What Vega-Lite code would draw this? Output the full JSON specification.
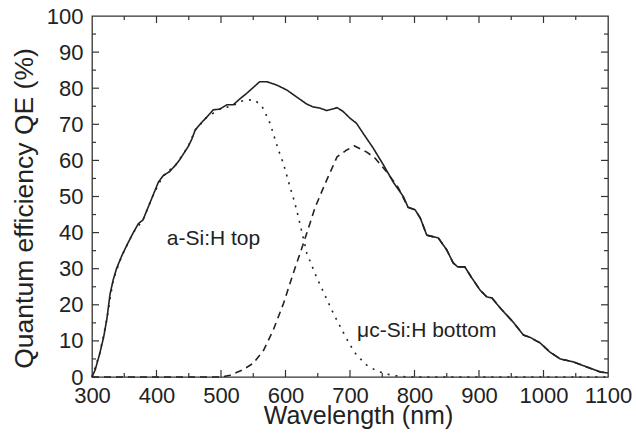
{
  "$schema": "https://vega.github.io/schema/vega-lite/v6.json",
  "autosize": "none",
  "width": 516,
  "height": 361,
  "padding": {"left": 92, "top": 16, "right": 28, "bottom": 66},
  "background": "white",
  "config": {
    "view": {"stroke": "#333", "strokeWidth": 1.3},
    "axis": {"grid": false, "domain": false, "ticks": false, "labelFont": "Liberation Sans", "titleFont": "Liberation Sans", "titleFontWeight": "normal", "labelColor": "#222", "titleColor": "#222"}
  },
  "resolve": {"axis": {"x": "independent", "y": "independent"}},
  "datasets": {
    "curves": [
      {"series": "total", "wl": 300, "qe": 0},
      {"series": "total", "wl": 305, "qe": 2},
      {"series": "total", "wl": 312, "qe": 6.5},
      {"series": "total", "wl": 318, "qe": 11},
      {"series": "total", "wl": 323, "qe": 16},
      {"series": "total", "wl": 328, "qe": 23},
      {"series": "total", "wl": 333, "qe": 27},
      {"series": "total", "wl": 338, "qe": 30},
      {"series": "total", "wl": 346, "qe": 33.5},
      {"series": "total", "wl": 354, "qe": 36.5},
      {"series": "total", "wl": 364, "qe": 40},
      {"series": "total", "wl": 372, "qe": 42.5},
      {"series": "total", "wl": 379, "qe": 43.5},
      {"series": "total", "wl": 387, "qe": 47},
      {"series": "total", "wl": 395, "qe": 50.5},
      {"series": "total", "wl": 403, "qe": 54},
      {"series": "total", "wl": 410, "qe": 55.7},
      {"series": "total", "wl": 421, "qe": 57},
      {"series": "total", "wl": 430, "qe": 58.8},
      {"series": "total", "wl": 436, "qe": 60.2},
      {"series": "total", "wl": 449, "qe": 63.8},
      {"series": "total", "wl": 455, "qe": 66},
      {"series": "total", "wl": 460, "qe": 68.4},
      {"series": "total", "wl": 470, "qe": 70.5},
      {"series": "total", "wl": 478, "qe": 72},
      {"series": "total", "wl": 488, "qe": 74},
      {"series": "total", "wl": 498, "qe": 74.2},
      {"series": "total", "wl": 509, "qe": 75.4},
      {"series": "total", "wl": 519, "qe": 75.4},
      {"series": "total", "wl": 529, "qe": 77},
      {"series": "total", "wl": 540, "qe": 78.6},
      {"series": "total", "wl": 550, "qe": 80.2},
      {"series": "total", "wl": 560, "qe": 81.8},
      {"series": "total", "wl": 571, "qe": 81.8},
      {"series": "total", "wl": 586, "qe": 80.9},
      {"series": "total", "wl": 602, "qe": 79.5},
      {"series": "total", "wl": 617, "qe": 77.6},
      {"series": "total", "wl": 633, "qe": 75.6},
      {"series": "total", "wl": 643, "qe": 74.8},
      {"series": "total", "wl": 653, "qe": 74.5},
      {"series": "total", "wl": 664, "qe": 73.8},
      {"series": "total", "wl": 680, "qe": 74.6},
      {"series": "total", "wl": 689, "qe": 73.6},
      {"series": "total", "wl": 700, "qe": 71.7},
      {"series": "total", "wl": 710, "qe": 70.3},
      {"series": "total", "wl": 720, "qe": 67.6},
      {"series": "total", "wl": 736, "qe": 63.4},
      {"series": "total", "wl": 752, "qe": 58.7},
      {"series": "total", "wl": 767, "qe": 54},
      {"series": "total", "wl": 783, "qe": 49.9},
      {"series": "total", "wl": 790, "qe": 47},
      {"series": "total", "wl": 801, "qe": 46.3},
      {"series": "total", "wl": 809, "qe": 44},
      {"series": "total", "wl": 819, "qe": 39.3},
      {"series": "total", "wl": 837, "qe": 38.5},
      {"series": "total", "wl": 850, "qe": 35.2},
      {"series": "total", "wl": 860, "qe": 31.6},
      {"series": "total", "wl": 867, "qe": 30.5},
      {"series": "total", "wl": 878, "qe": 30.5},
      {"series": "total", "wl": 889, "qe": 27.4},
      {"series": "total", "wl": 902, "qe": 24},
      {"series": "total", "wl": 912, "qe": 22.2},
      {"series": "total", "wl": 920, "qe": 21.9},
      {"series": "total", "wl": 933, "qe": 19.1},
      {"series": "total", "wl": 953, "qe": 15.2},
      {"series": "total", "wl": 969, "qe": 11.6},
      {"series": "total", "wl": 979, "qe": 11},
      {"series": "total", "wl": 995, "qe": 9.4},
      {"series": "total", "wl": 1010, "qe": 6.9},
      {"series": "total", "wl": 1026, "qe": 5},
      {"series": "total", "wl": 1046, "qe": 4.2},
      {"series": "total", "wl": 1067, "qe": 2.8},
      {"series": "total", "wl": 1088, "qe": 1.4},
      {"series": "total", "wl": 1100, "qe": 1.1},

      {"series": "top", "wl": 300, "qe": 0},
      {"series": "top", "wl": 312, "qe": 6.5},
      {"series": "top", "wl": 323, "qe": 16},
      {"series": "top", "wl": 333, "qe": 27},
      {"series": "top", "wl": 346, "qe": 33.5},
      {"series": "top", "wl": 364, "qe": 40},
      {"series": "top", "wl": 379, "qe": 43.5},
      {"series": "top", "wl": 395, "qe": 50.5},
      {"series": "top", "wl": 410, "qe": 55.7},
      {"series": "top", "wl": 430, "qe": 58.8},
      {"series": "top", "wl": 449, "qe": 63.8},
      {"series": "top", "wl": 460, "qe": 68.4},
      {"series": "top", "wl": 478, "qe": 72},
      {"series": "top", "wl": 498, "qe": 74.2},
      {"series": "top", "wl": 519, "qe": 75.2},
      {"series": "top", "wl": 529, "qe": 76.3},
      {"series": "top", "wl": 540, "qe": 76.8},
      {"series": "top", "wl": 553, "qe": 76.7},
      {"series": "top", "wl": 565, "qe": 74.5},
      {"series": "top", "wl": 576, "qe": 70.3},
      {"series": "top", "wl": 589, "qe": 62.9},
      {"series": "top", "wl": 597, "qe": 59},
      {"series": "top", "wl": 607, "qe": 52.6},
      {"series": "top", "wl": 614, "qe": 48.5},
      {"series": "top", "wl": 620, "qe": 44.3},
      {"series": "top", "wl": 633, "qe": 34.3},
      {"series": "top", "wl": 648, "qe": 27.7},
      {"series": "top", "wl": 661, "qe": 22.7},
      {"series": "top", "wl": 674, "qe": 17.7},
      {"series": "top", "wl": 690, "qe": 12.2},
      {"series": "top", "wl": 700, "qe": 8.9},
      {"series": "top", "wl": 710, "qe": 6.1},
      {"series": "top", "wl": 726, "qe": 3.3},
      {"series": "top", "wl": 741, "qe": 1.7},
      {"series": "top", "wl": 757, "qe": 0.8},
      {"series": "top", "wl": 773, "qe": 0.3},
      {"series": "top", "wl": 790, "qe": 0},
      {"series": "top", "wl": 1100, "qe": 0},

      {"series": "bottom", "wl": 300, "qe": 0},
      {"series": "bottom", "wl": 500, "qe": 0},
      {"series": "bottom", "wl": 514, "qe": 0.5},
      {"series": "bottom", "wl": 534, "qe": 2},
      {"series": "bottom", "wl": 550, "qe": 3.8},
      {"series": "bottom", "wl": 566, "qe": 7.4},
      {"series": "bottom", "wl": 581, "qe": 13},
      {"series": "bottom", "wl": 597, "qe": 20.4},
      {"series": "bottom", "wl": 612, "qe": 28.7},
      {"series": "bottom", "wl": 628, "qe": 37.1},
      {"series": "bottom", "wl": 638, "qe": 42.6},
      {"series": "bottom", "wl": 646, "qe": 47},
      {"series": "bottom", "wl": 653, "qe": 50},
      {"series": "bottom", "wl": 664, "qe": 54.6},
      {"series": "bottom", "wl": 680, "qe": 61},
      {"series": "bottom", "wl": 695, "qe": 62.9},
      {"series": "bottom", "wl": 707, "qe": 64},
      {"series": "bottom", "wl": 726, "qe": 62.3},
      {"series": "bottom", "wl": 739, "qe": 60.6},
      {"series": "bottom", "wl": 757, "qe": 56.8},
      {"series": "bottom", "wl": 775, "qe": 52.4},
      {"series": "bottom", "wl": 790, "qe": 47},
      {"series": "bottom", "wl": 801, "qe": 46.3},
      {"series": "bottom", "wl": 809, "qe": 44},
      {"series": "bottom", "wl": 819, "qe": 39.3},
      {"series": "bottom", "wl": 837, "qe": 38.5},
      {"series": "bottom", "wl": 850, "qe": 35.2},
      {"series": "bottom", "wl": 860, "qe": 31.6},
      {"series": "bottom", "wl": 867, "qe": 30.5},
      {"series": "bottom", "wl": 878, "qe": 30.5},
      {"series": "bottom", "wl": 889, "qe": 27.4},
      {"series": "bottom", "wl": 902, "qe": 24},
      {"series": "bottom", "wl": 912, "qe": 22.2},
      {"series": "bottom", "wl": 920, "qe": 21.9},
      {"series": "bottom", "wl": 933, "qe": 19.1},
      {"series": "bottom", "wl": 953, "qe": 15.2},
      {"series": "bottom", "wl": 969, "qe": 11.6},
      {"series": "bottom", "wl": 979, "qe": 11},
      {"series": "bottom", "wl": 995, "qe": 9.4},
      {"series": "bottom", "wl": 1010, "qe": 6.9},
      {"series": "bottom", "wl": 1026, "qe": 5},
      {"series": "bottom", "wl": 1046, "qe": 4.2},
      {"series": "bottom", "wl": 1067, "qe": 2.8},
      {"series": "bottom", "wl": 1088, "qe": 1.4},
      {"series": "bottom", "wl": 1100, "qe": 1.1}
    ],
    "labels": [
      {"label": "a-Si:H top", "wl": 416, "qe": 38.3},
      {"label": "μc-Si:H bottom", "wl": 711, "qe": 12.7}
    ],
    "xticks": [
      {"v": 350}, {"v": 400}, {"v": 450}, {"v": 500}, {"v": 550}, {"v": 600}, {"v": 650}, {"v": 700},
      {"v": 750}, {"v": 800}, {"v": 850}, {"v": 900}, {"v": 950}, {"v": 1000}, {"v": 1050}
    ],
    "yticks": [
      {"v": 5}, {"v": 10}, {"v": 15}, {"v": 20}, {"v": 25}, {"v": 30}, {"v": 35}, {"v": 40}, {"v": 45},
      {"v": 50}, {"v": 55}, {"v": 60}, {"v": 65}, {"v": 70}, {"v": 75}, {"v": 80}, {"v": 85}, {"v": 90}, {"v": 95}
    ]
  },
  "layer": [
    {
      "data": {"name": "curves"},
      "mark": {"type": "line", "color": "#222", "strokeWidth": 1.6},
      "encoding": {
        "x": {
          "field": "wl", "type": "quantitative",
          "scale": {"domain": [300, 1100], "nice": false},
          "axis": {
            "orient": "bottom",
            "title": "Wavelength (nm)",
            "titleFontSize": 25,
            "titleX": 266, "titleY": 46, "titleBaseline": "alphabetic", "titleAlign": "center",
            "values": [300,400,500,600,700,800,900,1000,1100],
            "format": "d",
            "labelFontSize": 22,
            "labelPadding": 8,
            "labelOverlap": false,
            "labelFlush": false
          }
        },
        "y": {
          "field": "qe", "type": "quantitative",
          "scale": {"domain": [0, 100], "nice": false},
          "axis": {
            "orient": "left",
            "title": "Quantum efficiency QE (%)",
            "titleFontSize": 26.5,
            "titleX": -60, "titleY": 192, "titleAngle": -90, "titleBaseline": "alphabetic", "titleAlign": "center",
            "values": [0,10,20,30,40,50,60,70,80,90,100],
            "labelFontSize": 22,
            "labelPadding": 9,
            "labelOverlap": false,
            "labelFlush": false
          }
        },
        "strokeDash": {
          "field": "series", "type": "nominal",
          "scale": {"domain": ["total", "top", "bottom"], "range": [[1, 0], [2, 6], [7, 5]]},
          "legend": null
        }
      }
    },
    {
      "data": {"name": "labels"},
      "mark": {"type": "text", "align": "left", "baseline": "middle", "fontSize": 21, "color": "#222", "font": "Liberation Sans"},
      "encoding": {
        "x": {"field": "wl", "type": "quantitative", "axis": null},
        "y": {"field": "qe", "type": "quantitative", "axis": null},
        "text": {"field": "label", "type": "nominal"}
      }
    },
    {
      "data": {"name": "xticks"},
      "transform": [{"filter": "datum.v % 100 == 0"}],
      "layer": [
        {"mark": {"type": "rule", "color": "#333", "strokeWidth": 1.2, "y2Offset": -7},
         "encoding": {"x": {"field": "v", "type": "quantitative", "axis": null}, "y": {"datum": 0, "axis": null}, "y2": {"datum": 0}}},
        {"mark": {"type": "rule", "color": "#333", "strokeWidth": 1.2, "y2Offset": 7},
         "encoding": {"x": {"field": "v", "type": "quantitative", "axis": null}, "y": {"datum": 100, "axis": null}, "y2": {"datum": 100}}}
      ]
    },
    {
      "data": {"name": "xticks"},
      "transform": [{"filter": "datum.v % 100 != 0"}],
      "layer": [
        {"mark": {"type": "rule", "color": "#333", "strokeWidth": 1.2, "y2Offset": -4},
         "encoding": {"x": {"field": "v", "type": "quantitative", "axis": null}, "y": {"datum": 0, "axis": null}, "y2": {"datum": 0}}},
        {"mark": {"type": "rule", "color": "#333", "strokeWidth": 1.2, "y2Offset": 4},
         "encoding": {"x": {"field": "v", "type": "quantitative", "axis": null}, "y": {"datum": 100, "axis": null}, "y2": {"datum": 100}}}
      ]
    },
    {
      "data": {"name": "yticks"},
      "transform": [{"filter": "datum.v % 10 == 0"}],
      "layer": [
        {"mark": {"type": "rule", "color": "#333", "strokeWidth": 1.2, "x2Offset": 7},
         "encoding": {"y": {"field": "v", "type": "quantitative", "axis": null}, "x": {"datum": 300, "axis": null}, "x2": {"datum": 300}}},
        {"mark": {"type": "rule", "color": "#333", "strokeWidth": 1.2, "x2Offset": -7},
         "encoding": {"y": {"field": "v", "type": "quantitative", "axis": null}, "x": {"datum": 1100, "axis": null}, "x2": {"datum": 1100}}}
      ]
    },
    {
      "data": {"name": "yticks"},
      "transform": [{"filter": "datum.v % 10 != 0"}],
      "layer": [
        {"mark": {"type": "rule", "color": "#333", "strokeWidth": 1.2, "x2Offset": 4},
         "encoding": {"y": {"field": "v", "type": "quantitative", "axis": null}, "x": {"datum": 300, "axis": null}, "x2": {"datum": 300}}},
        {"mark": {"type": "rule", "color": "#333", "strokeWidth": 1.2, "x2Offset": -4},
         "encoding": {"y": {"field": "v", "type": "quantitative", "axis": null}, "x": {"datum": 1100, "axis": null}, "x2": {"datum": 1100}}}
      ]
    }
  ]
}
